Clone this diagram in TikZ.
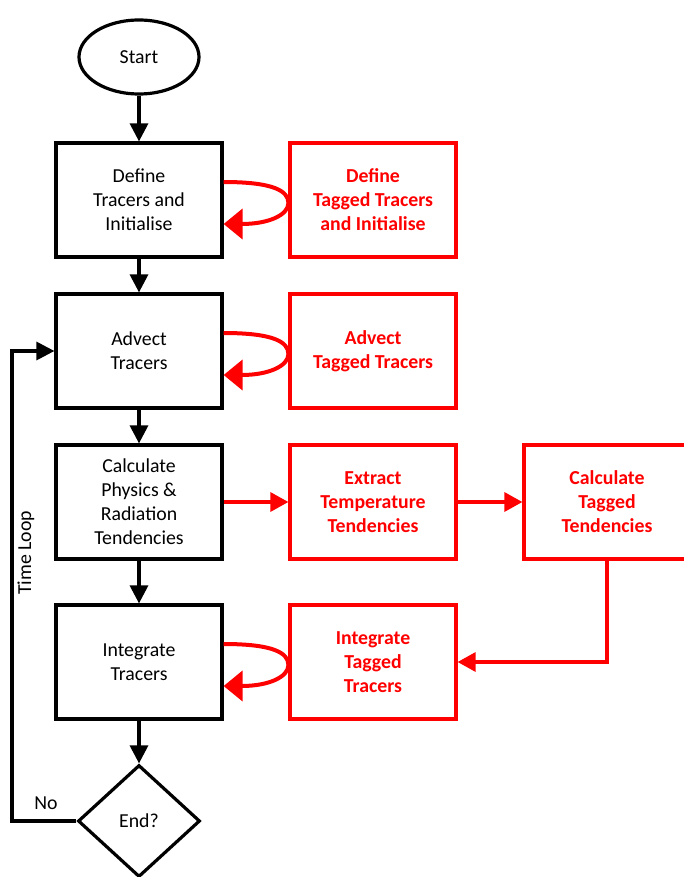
\documentclass[tikz,border=0pt]{standalone}
\usepackage{fontspec}
\setmainfont{Carlito}
\usetikzlibrary{shapes.geometric,arrows.meta}
\begin{document}
\begin{tikzpicture}[x=1pt,y=-1pt,
    box/.style = {draw,line width=3.2pt,minimum width=166pt,minimum height=114pt,
                  align=center,inner sep=2pt,font=\fontsize{19.8}{24}\selectfont},
    tagbox/.style = {box,red,font=\fontsize{19.8}{24}\selectfont\bfseries},
    flow/.style = {line width=3.2pt,-{Triangle[length=18pt,width=18pt]}},
    tagflow/.style = {red,line width=3.2pt,-{Triangle[length=18pt,width=19pt]}},
    tagloop/.style = {red,line width=4pt,-{Triangle[length=19pt,width=30pt]}}]
                \useasboundingbox (0,0) rectangle (684,877);

                \node[draw,ellipse,line width=3.2pt,minimum width=120pt,minimum height=74pt,
                      font=\fontsize{19.8}{24}\selectfont] (start) at (139,57) {Start};
                \node[box] (def) at (139,200) {Define\\Tracers and\\Initialise};
                \node[box] (adv) at (139,351) {Advect\\Tracers};
                \node[box] (phys) at (139,502) {Calculate\\Physics \&\\Radiation\\Tendencies};
                \node[box] (integ) at (139,662) {Integrate\\Tracers};
                \node[draw,diamond,line width=3.2pt,minimum width=122pt,minimum height=112pt,
                      inner sep=0pt,font=\fontsize{19.8}{24}\selectfont] (stop) at (139,821) {End?};

                \node[tagbox] (defT) at (373,200) {Define\\Tagged Tracers\\and Initialise};
                \node[tagbox] (advT) at (373,351) {Advect\\Tagged Tracers};
                \node[tagbox] (extT) at (373,502) {Extract\\Temperature\\Tendencies};
                \node[tagbox] (calcT) at (607,502) {Calculate\\Tagged\\Tendencies};
                \node[tagbox] (intT) at (373,662) {Integrate\\Tagged\\Tracers};

                % main flow
                \draw[flow] (start) -- (def);
                \draw[flow] (def) -- (adv);
                \draw[flow] (adv) -- (phys);
                \draw[flow] (phys) -- (integ);
                \draw[flow] (integ) -- (stop);

                % time loop
                \coordinate (loopL) at (12,821);
                \draw[flow] (stop.west) -- (loopL) |- (adv.west);
                \node[font=\fontsize{19.8}{24}\selectfont] (no) at (46,803) {No};
                \node[rotate=90,font=\fontsize{19.8}{24}\selectfont] (tloop) at (26,553) {Time Loop};

                % tagged tracers
                \draw[tagflow] (phys) -- (extT);
                \draw[tagflow] (extT) -- (calcT);
                \draw[tagflow] (calcT.south) |- (intT.east);
                \foreach \a/\b in {def/defT,adv/advT,integ/intT}
                    \draw[tagloop] ([yshift=18pt]\a.east)
                        .. controls +(50pt,0pt) and +(0pt,12pt) .. ([yshift=-3pt]\b.west)
                        .. controls +(0pt,-12pt) and +(45pt,0pt) .. ([yshift=-24pt]\a.east);
            \end{tikzpicture}
\end{document}
